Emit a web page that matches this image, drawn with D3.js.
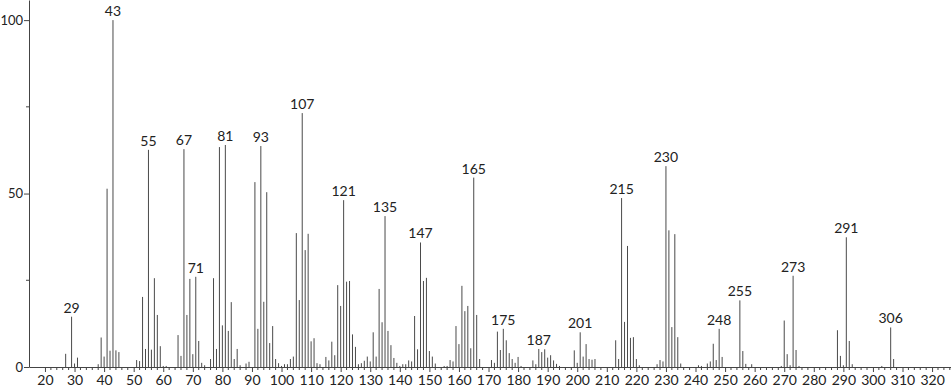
<!DOCTYPE html>
<html>
<head>
<meta charset="utf-8">
<script src="https://cdn.jsdelivr.net/npm/d3@7"></script>
<style>
  body { margin: 0; background: #fff; }
  svg text { font-family: Lato, "DejaVu Sans", sans-serif; fill: #222; }
</style>
</head>
<body>
<svg width="951" height="389"></svg>
<script>
// m/z values and relative intensities
let mz = [27, 29, 30, 31, 38, 39, 40, 41, 42, 43, 44, 45,
  51, 52, 53, 54, 55, 56, 57, 58, 59, 60, 61,
  65, 66, 67, 68, 69, 70, 71, 72, 73, 74,
  76, 77, 78, 79, 80, 81, 82, 83, 84, 85, 86, 88, 89,
  91, 92, 93, 94, 95, 96, 97, 98, 99, 100, 101, 102, 103, 104,
  105, 106, 107, 108, 109, 110, 111, 112, 113,
  115, 116, 117, 118, 119, 120, 121, 122, 123, 124, 125,
  126, 127, 128, 129, 130, 131, 132, 133, 134, 135, 136, 137, 138, 139, 140,
  141, 142, 143, 144, 145, 146, 147, 148, 149, 150, 151, 152,
  155, 156, 157, 158, 159, 160, 161, 162, 163, 164, 165, 166, 167,
  171, 172, 173, 174, 175, 176, 177, 178, 179, 180, 181,
  185, 186, 187, 188, 189, 190, 191, 192, 193, 194,
  199, 200, 201, 202, 203, 204, 205, 206,
  213, 214, 215, 216, 217, 218, 219, 220, 221,
  227, 228, 229, 230, 231, 232, 233, 234, 235,
  241, 242, 244, 245, 246, 247, 248, 249,
  255, 256, 257, 259,
  269, 270, 271, 272, 273, 274, 275,
  288, 289, 290, 291, 292, 293,
  303, 306, 307];

let intensity = [3.8, 14.5, 1.0, 2.7, 0.8, 8.5, 3.0, 51.4, 4.7, 100, 4.8, 4.3,
  2.0, 1.7, 20.2, 5.2, 62.6, 5.0, 25.6, 15.0, 6.0, 0.3, 0.3,
  9.2, 3.2, 62.8, 15.0, 25.4, 3.7, 26.0, 7.5, 1.2, 0.5,
  2.3, 25.6, 5.2, 63.4, 12.0, 64.0, 10.4, 18.7, 2.3, 5.2, 0.5, 1.0, 1.5,
  53.3, 11.0, 63.7, 18.8, 50.4, 6.9, 11.8, 2.3, 1.1, 0.3, 0.8, 0.8, 2.3, 3.0,
  38.6, 19.3, 73.2, 33.7, 38.4, 7.4, 8.3, 1.1, 0.8,
  2.9, 1.9, 7.3, 3.4, 23.6, 17.6, 48.1, 24.6, 24.8, 9.4, 5.8,
  0.8, 1.1, 1.8, 3.0, 1.6, 10.0, 3.0, 22.5, 12.9, 43.5, 10.4, 6.3, 2.6, 1.2, 0.3,
  0.8, 0.8, 1.9, 1.6, 14.7, 5.1, 35.9, 24.8, 25.7, 4.6, 3.0, 1.0,
  0.3, 0.3, 2.0, 1.6, 11.8, 6.6, 23.4, 16.1, 17.6, 5.4, 54.6, 15.0, 2.3,
  2.0, 1.2, 10.2, 4.9, 11.0, 7.7, 4.0, 2.3, 1.2, 2.9, 0.3,
  1.9, 0.8, 5.2, 4.3, 5.1, 2.7, 3.4, 1.9, 0.9, 0.3,
  4.8, 1.2, 10.0, 3.0, 6.6, 2.3, 2.1, 2.3,
  7.7, 2.3, 48.7, 13.0, 34.9, 8.4, 8.6, 2.3, 0.5,
  0.8, 2.0, 1.6, 57.9, 39.4, 11.5, 38.3, 8.6, 1.0,
  0.5, 0.3, 1.0, 1.6, 6.7, 2.0, 11.0, 2.9,
  19.2, 4.6, 0.9, 0.8,
  0.3, 13.4, 3.7, 0.5, 26.3, 4.9, 0.3,
  10.6, 3.2, 0.5, 37.4, 7.5, 0.8,
  0.3, 11.4, 2.3];

// peaks that carry an m/z label
let labelled = [29, 43, 55, 67, 71, 81, 93, 107, 121, 135, 147, 165,
  175, 187, 201, 215, 230, 248, 255, 273, 291, 306];

let yMajor = [0, 50, 100];
let yMinor = [25, 75];

let svg = d3.select("svg");
let margin = { top: 0, right: 0, bottom: 22, left: 29 },
    width = +svg.attr("width") - margin.left - margin.right,
    height = +svg.attr("height") - margin.top - margin.bottom;

let x = d3.scaleLinear().domain([14.6, 326.4]).range([0, width]);
let y = d3.scaleLinear().domain([0, 105.8]).range([height, 0]);

let g = svg.append("g")
    .attr("transform", "translate(" + margin.left + "," + margin.top + ")");

let peaks = mz.map((m, i) => ({ mz: m, value: intensity[i] }));

// bars (stick spectrum)
g.selectAll(".bar")
    .data(peaks)
    .enter()
    .append("line")
    .classed("bar", true)
    .attr("x1", d => x(d.mz))
    .attr("x2", d => x(d.mz))
    .attr("y1", y(0))
    .attr("y2", d => y(d.value))
    .attr("stroke", "#4a4a4a")
    .attr("stroke-width", 1);

// x axis: labelled every 10, minor every 2
let xAxis = g.append("g")
    .attr("transform", "translate(0," + height + ")");
xAxis.call(d3.axisBottom(x)
    .tickValues(d3.range(20, 321, 10))
    .tickSize(5)
    .tickSizeOuter(0));
xAxis.append("g").selectAll("line")
    .data(d3.range(22, 327, 2).filter(v => v % 10 !== 0))
    .enter().append("line")
    .attr("x1", d => x(d)).attr("x2", d => x(d))
    .attr("y1", 0).attr("y2", 3)
    .attr("stroke", "#444");
xAxis.select(".domain").attr("stroke", "#444");
xAxis.selectAll(".tick line").attr("stroke", "#444");
xAxis.selectAll(".tick text")
    .attr("y", 8)
    .style("font-size", "14px")
    .style("font-family", "Lato, 'DejaVu Sans', sans-serif")
    .attr("fill", "#222");

// y axis
let yAxis = g.append("g");
yAxis.call(d3.axisLeft(y)
    .tickValues(yMajor)
    .tickSize(5)
    .tickPadding(1)
    .tickSizeOuter(0));
yAxis.append("g").selectAll("line")
    .data(yMinor)
    .enter().append("line")
    .attr("x1", -3).attr("x2", 0)
    .attr("y1", d => y(d)).attr("y2", d => y(d))
    .attr("stroke", "#444");
yAxis.select(".domain").attr("stroke", "#444");
yAxis.selectAll(".tick line").attr("stroke", "#444");
yAxis.selectAll(".tick text")
    .style("font-size", "13px")
    .style("font-family", "Lato, 'DejaVu Sans', sans-serif")
    .attr("fill", "#222");

// peak labels
g.selectAll(".peak-label")
    .data(peaks.filter(d => labelled.includes(d.mz)))
    .enter()
    .append("text")
    .classed("peak-label", true)
    .attr("x", d => x(d.mz))
    .attr("y", d => y(d.value) - 4)
    .attr("text-anchor", "middle")
    .style("font-size", "14px")
    .text(d => d.mz);
</script>
</body>
</html>
